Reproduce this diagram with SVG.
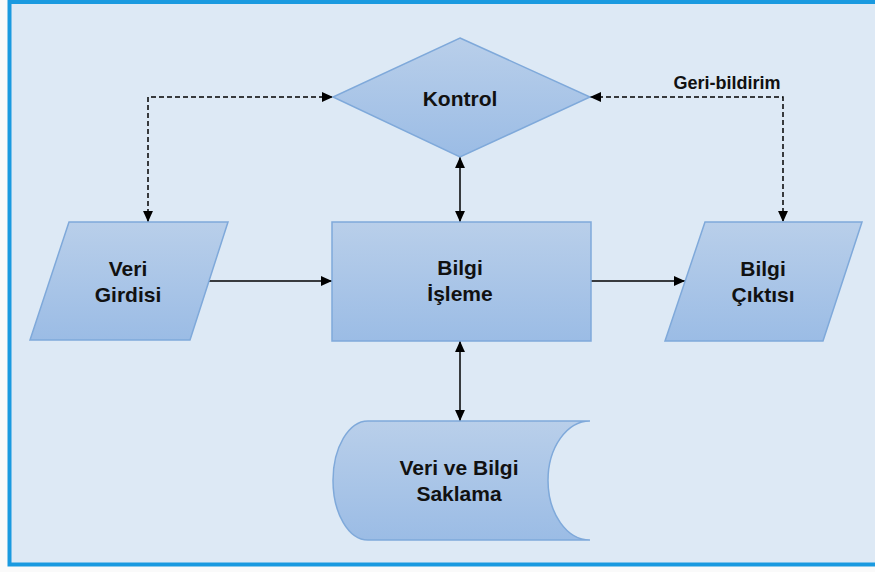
<svg xmlns="http://www.w3.org/2000/svg" width="875" height="572" viewBox="0 0 875 572">
  <defs>
    <linearGradient id="shapeFill" x1="0" y1="0" x2="0" y2="1">
      <stop offset="0" stop-color="#b9cfea"/>
      <stop offset="1" stop-color="#9bbce5"/>
    </linearGradient>
    <marker id="arrow" viewBox="0 0 10 10" refX="10" refY="5" markerWidth="11" markerHeight="11" markerUnits="userSpaceOnUse" orient="auto-start-reverse">
      <path d="M0,0.5 L10,5 L0,9.5 Z" fill="#000"/>
    </marker>
    <style>
      .shape { fill: url(#shapeFill); stroke: #7fa9da; stroke-width: 1.5; }
      .label { font-family: "Liberation Sans", Arial, sans-serif; font-weight: bold; font-size: 21px; fill: #111; text-anchor: middle; }
      .small { font-size: 18px; }
      .solid { fill: none; stroke: #000; stroke-width: 1.5; }
      .dashed { fill: none; stroke: #000; stroke-width: 1.5; stroke-dasharray: 5 3; }
    </style>
  </defs>

  <!-- page and frame -->
  <rect x="0" y="0" width="875" height="572" fill="#fafafa"/>
  <rect x="9.5" y="2" width="880" height="562.5" fill="#dde9f5" stroke="#1a9ae0" stroke-width="4"/>

  <!-- connectors -->
  <g id="connectors">
    <line class="solid" x1="207" y1="281" x2="332" y2="281" marker-end="url(#arrow)"/>
    <line class="solid" x1="591" y1="281" x2="685" y2="281" marker-end="url(#arrow)"/>
    <line class="solid" x1="460" y1="157" x2="460" y2="222" marker-start="url(#arrow)" marker-end="url(#arrow)"/>
    <line class="solid" x1="460" y1="341" x2="460" y2="421" marker-start="url(#arrow)" marker-end="url(#arrow)"/>
    <polyline class="dashed" points="148,222 148,97 333,97" marker-start="url(#arrow)" marker-end="url(#arrow)"/>
    <polyline class="dashed" points="590,97 783,97 783,222" marker-start="url(#arrow)" marker-end="url(#arrow)"/>
    <text class="label small" x="727" y="89">Geri-bildirim</text>
  </g>

  <g id="kontrol">
    <polygon class="shape" points="460,38 590,97 460,157 333,97"/>
    <text class="label" x="460" y="106">Kontrol</text>
  </g>

  <g id="veri-girdisi">
    <polygon class="shape" points="69,222 228,222 190,340 30,340"/>
    <text class="label" x="128" y="276">Veri</text>
    <text class="label" x="128" y="302">Girdisi</text>
  </g>

  <g id="bilgi-isleme">
    <rect class="shape" x="332" y="222" width="259" height="119"/>
    <text class="label" x="460" y="275">Bilgi</text>
    <text class="label" x="460" y="301">İşleme</text>
  </g>

  <g id="bilgi-ciktisi">
    <polygon class="shape" points="705,222 862,222 823,341 665,341"/>
    <text class="label" x="763" y="276">Bilgi</text>
    <text class="label" x="763" y="302">Çıktısı</text>
  </g>

  <g id="veri-ve-bilgi-saklama">
    <path class="shape" d="M368,421 L590,421 A42,59.5 0 0 0 590,540 L368,540 A35,59.5 0 0 1 368,421 Z"/>
    <text class="label" x="459" y="475">Veri ve Bilgi</text>
    <text class="label" x="459" y="501">Saklama</text>
  </g>
</svg>
